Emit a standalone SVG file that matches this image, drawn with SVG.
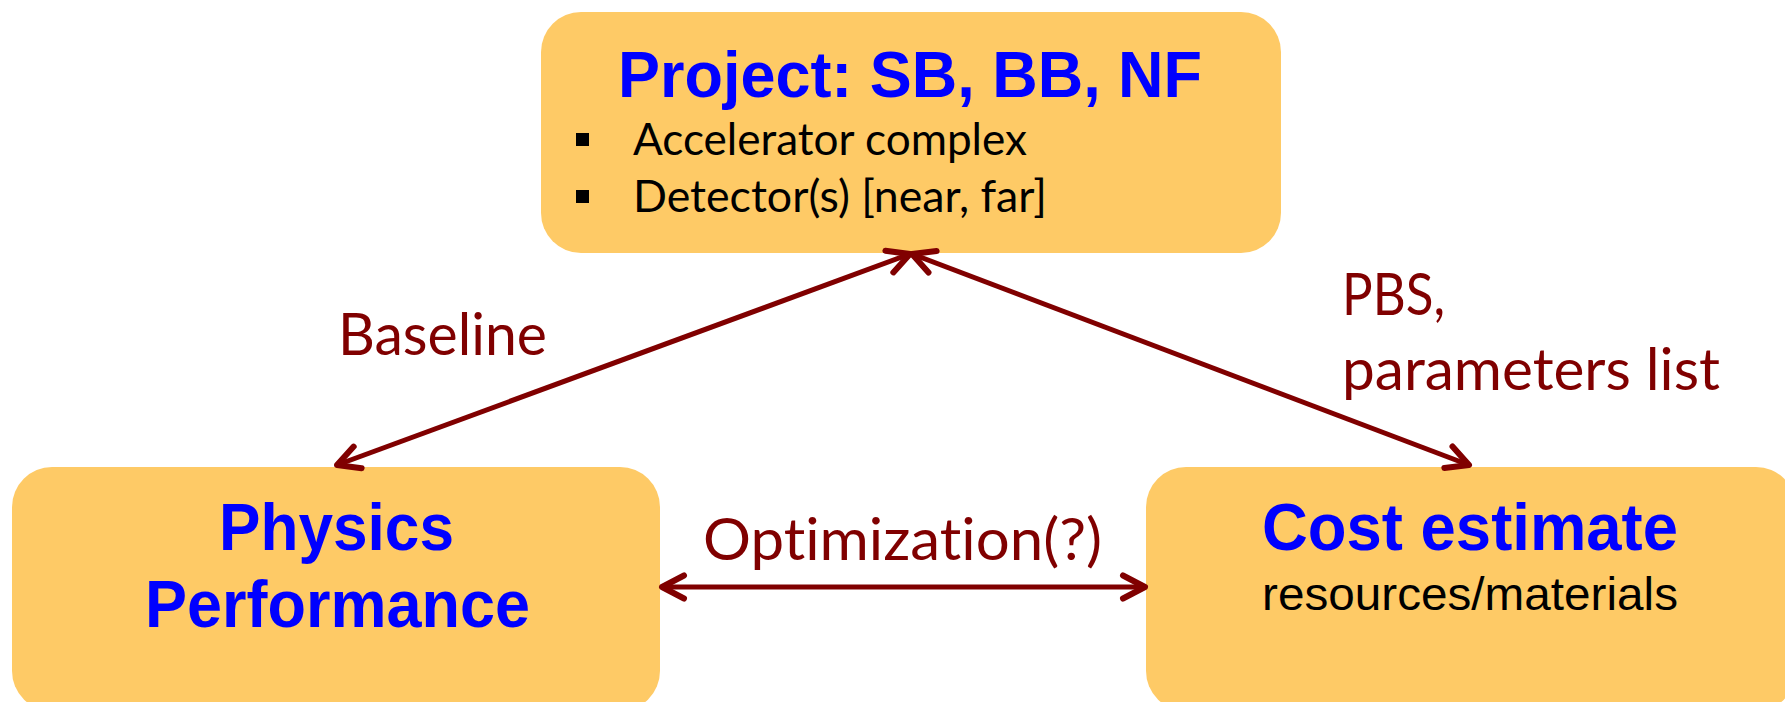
<svg xmlns="http://www.w3.org/2000/svg" width="1785" height="702" viewBox="0 0 1785 702">
<style>
.box{fill:#FECA66;}
.title{font-family:"Liberation Sans",Arial,sans-serif;font-weight:bold;fill:#0000FF;}
.body{font-family:Lato,"Open Sans",sans-serif;fill:#000000;font-variant-ligatures:none;}
.sub{font-family:"Liberation Sans",Arial,sans-serif;fill:#000000;}
.lbl{font-family:Lato,"Open Sans",sans-serif;fill:#800000;font-size:59px;font-variant-ligatures:none;}
.conn{stroke:#800000;stroke-width:5;fill:none;marker-start:url(#ah);marker-end:url(#ah);}
</style>
<defs>
<marker id="ah" markerUnits="userSpaceOnUse" viewBox="-30 -20 40 40" refX="0" refY="0" markerWidth="40" markerHeight="40" orient="auto-start-reverse" overflow="visible">
<path d="M-22,-11.5 L0,0 L-22,11.5" fill="none" stroke="#800000" stroke-width="6" stroke-linecap="round" stroke-linejoin="round"/>
</marker>
</defs>
<rect width="1785" height="702" fill="#FFFFFF"/>
<g id="node-project">
<rect class="box" x="541" y="12" width="740" height="241" rx="40" ry="40"/>
<text class="title" x="618" y="97" font-size="64" textLength="584" lengthAdjust="spacingAndGlyphs">Project: SB, BB, NF</text>
<rect x="576" y="133" width="13" height="13" fill="#000"/>
<text class="body" x="633" y="155" font-size="44" textLength="394" lengthAdjust="spacingAndGlyphs">Accelerator complex</text>
<rect x="576" y="190" width="13" height="13" fill="#000"/>
<text class="body" x="633" y="212" font-size="44" textLength="414" lengthAdjust="spacingAndGlyphs">Detector(s) [near, far]</text>
</g>
<g id="node-physics">
<rect class="box" x="12" y="467" width="648" height="244" rx="40" ry="40"/>
<text class="title" x="219" y="550" font-size="66" textLength="235" lengthAdjust="spacingAndGlyphs">Physics</text>
<text class="title" x="145" y="627" font-size="66" textLength="385" lengthAdjust="spacingAndGlyphs">Performance</text>
</g>
<g id="node-cost">
<rect class="box" x="1146" y="467" width="650" height="244" rx="40" ry="40"/>
<text class="title" x="1262" y="550" font-size="66" textLength="416" lengthAdjust="spacingAndGlyphs">Cost estimate</text>
<text class="sub" x="1262" y="610" font-size="46" textLength="416" lengthAdjust="spacingAndGlyphs">resources/materials</text>
</g>
<g id="connectors">
<line class="conn" x1="910" y1="254" x2="337" y2="465"/>
<line class="conn" x1="912" y1="254" x2="1469" y2="465"/>
<line class="conn" x1="662" y1="587" x2="1145" y2="587"/>
<text class="lbl" x="338" y="355" textLength="209" lengthAdjust="spacingAndGlyphs">Baseline</text>
<text class="lbl" x="1342" y="315" textLength="103" lengthAdjust="spacingAndGlyphs">PBS,</text>
<text class="lbl" x="1342" y="390" textLength="378" lengthAdjust="spacingAndGlyphs">parameters list</text>
<text class="lbl" x="703" y="560" textLength="399" lengthAdjust="spacingAndGlyphs">Optimization(?)</text>
</g>
</svg>
